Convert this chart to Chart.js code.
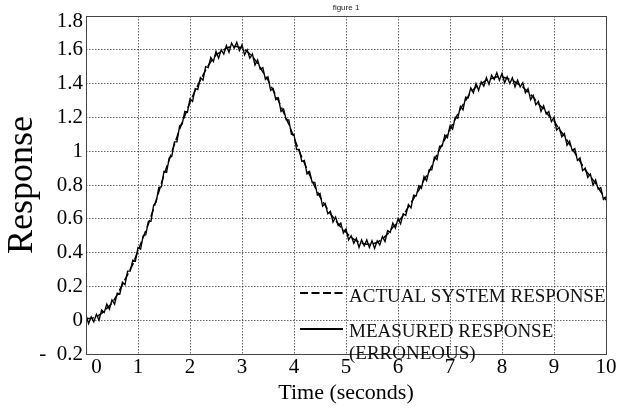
<!DOCTYPE html>
<html>
<head>
<meta charset="utf-8">
<style>
  html, body { margin: 0; padding: 0; background: #fff; }
  #wrap { width: 620px; height: 412px; }
</style>
<script src="https://cdn.jsdelivr.net/npm/chart.js@4.4.1/dist/chart.umd.min.js"></script>
</head>
<body>
<div id="wrap"><canvas id="grafico" width="620" height="412"></canvas></div>
<script>
// Values
const actualValues = [
  0.01, 0.01, 0.02, 0.04, 0.07, 0.10, 0.15, 0.21, 0.27, 0.33,
  0.41, 0.49, 0.57, 0.66, 0.76, 0.86, 0.95, 1.04, 1.13, 1.21,
  1.29, 1.36, 1.42, 1.48, 1.53, 1.57, 1.59, 1.61, 1.62, 1.62,
  1.61, 1.59, 1.56, 1.52, 1.47, 1.42, 1.36, 1.30, 1.23, 1.16,
  1.08, 1.00, 0.93, 0.86, 0.79, 0.73, 0.68, 0.63, 0.59, 0.55,
  0.52, 0.49, 0.47, 0.455, 0.45, 0.45, 0.46, 0.48, 0.51, 0.55,
  0.58, 0.62, 0.67, 0.72, 0.77, 0.83, 0.88, 0.95, 1.01, 1.07,
  1.13, 1.19, 1.25, 1.30, 1.35, 1.38, 1.40, 1.42, 1.43, 1.44,
  1.44, 1.43, 1.42, 1.40, 1.38, 1.35, 1.32, 1.28, 1.25, 1.21,
  1.18, 1.13, 1.09, 1.04, 0.99, 0.94, 0.89, 0.85, 0.81, 0.76,
  0.71
];

const measuredValues = [
  0.03, -0.02, 0.02, -0.01, 0.035, 0.00, 0.06, 0.045, 0.095, 0.065,
  0.12, 0.095, 0.16, 0.155, 0.225, 0.21, 0.29, 0.29, 0.355, 0.35,
  0.43, 0.42, 0.50, 0.505, 0.585, 0.585, 0.68, 0.70, 0.785, 0.79,
  0.88, 0.875, 0.96, 0.97, 1.055, 1.055, 1.15, 1.16, 1.235, 1.23,
  1.31, 1.295, 1.37, 1.365, 1.435, 1.42, 1.50, 1.495, 1.555, 1.53,
  1.59, 1.55, 1.60, 1.575, 1.625, 1.585, 1.64, 1.61, 1.645, 1.595,
  1.63, 1.57, 1.60, 1.55, 1.575, 1.51, 1.54, 1.485, 1.495, 1.425,
  1.44, 1.36, 1.37, 1.305, 1.315, 1.235, 1.25, 1.185, 1.185, 1.10,
  1.10, 1.01, 1.01, 0.94, 0.945, 0.865, 0.88, 0.815, 0.815, 0.74,
  0.75, 0.675, 0.69, 0.63, 0.645, 0.58, 0.61, 0.56, 0.575, 0.515,
  0.54, 0.475, 0.50, 0.455, 0.485, 0.43, 0.475, 0.44, 0.475, 0.43,
  0.47, 0.425, 0.47, 0.445, 0.495, 0.465, 0.53, 0.52, 0.575, 0.545,
  0.60, 0.57, 0.63, 0.62, 0.685, 0.665, 0.74, 0.735, 0.795, 0.78,
  0.85, 0.825, 0.89, 0.89, 0.965, 0.95, 1.03, 1.03, 1.095, 1.08,
  1.15, 1.13, 1.20, 1.195, 1.265, 1.245, 1.32, 1.315, 1.375, 1.345,
  1.40, 1.36, 1.41, 1.385, 1.435, 1.395, 1.45, 1.425, 1.465, 1.42,
  1.46, 1.405, 1.44, 1.40, 1.435, 1.38, 1.42, 1.38, 1.405, 1.345,
  1.37, 1.305, 1.33, 1.275, 1.295, 1.235, 1.27, 1.22, 1.235, 1.175,
  1.20, 1.125, 1.14, 1.085, 1.105, 1.035, 1.06, 1.005, 1.015, 0.945,
  0.96, 0.885, 0.90, 0.845, 0.865, 0.80, 0.83, 0.775, 0.785, 0.715,
  0.73
];

// sample times (seconds)
const actualTimes = actualValues.map((_, i) => i / 10);
const measuredTimes = measuredValues.map((_, i) => i / 20);

const xTickValues = [0, 1, 2, 3, 4, 5, 6, 7, 8, 9, 10];
const xTickLabels = ["0", "1", "2", "3", "4", "5", "6", "7", "8", "9", "10"];
const yTickValues = [-0.2, 0, 0.2, 0.4, 0.6, 0.8, 1, 1.2, 1.4, 1.6, 1.8];
const yTickLabels = ["-\u20020.2", "0", "0.2", "0.4", "0.6", "0.8", "1", "1.2", "1.4", "1.6", "1.8"];

const legendNames = ["ACTUAL SYSTEM RESPONSE", "MEASURED RESPONSE\n(ERRONEOUS)"];
const figureTitle = "figure 1";

const serif = '"Liberation Serif", "Times New Roman", serif';

// fundo branco, moldura, titulo e legenda
const extras = {
  id: "extras",
  beforeDraw(chart) {
    const ctx = chart.ctx;
    ctx.save();
    ctx.fillStyle = "#fff";
    ctx.fillRect(0, 0, chart.width, chart.height);
    ctx.restore();
  },
  afterDraw(chart) {
    const ctx = chart.ctx;
    const a = chart.chartArea;
    ctx.save();
    ctx.strokeStyle = "#444";
    ctx.lineWidth = 1;
    ctx.strokeRect(Math.round(a.left) + 0.5, Math.round(a.top) + 0.5,
      Math.round(a.right - a.left), Math.round(a.bottom - a.top));

    ctx.fillStyle = "#222";
    ctx.font = '8px "Liberation Sans", Arial, sans-serif';
    ctx.textAlign = "center";
    ctx.textBaseline = "middle";
    ctx.fillText(figureTitle, (a.left + a.right) / 2, 7.5);

    // legenda: tracejado = actual, continuo = measured
    const rows = [
      { ds: chart.data.datasets[1], lineY: 293, textY: 302 },
      { ds: chart.data.datasets[0], lineY: 329, textY: 337 }
    ];
    ctx.textAlign = "left";
    ctx.textBaseline = "alphabetic";
    ctx.font = "19px " + serif;
    rows.forEach((r) => {
      ctx.strokeStyle = "#000";
      ctx.lineWidth = 2;
      ctx.setLineDash(r.ds.borderDash || []);
      ctx.beginPath();
      ctx.moveTo(300, r.lineY);
      ctx.lineTo(343, r.lineY);
      ctx.stroke();
      ctx.setLineDash([]);
      ctx.fillStyle = "#111";
      r.ds.label.split("\n").forEach((line, i) => {
        ctx.fillText(line, 349, r.textY + i * 22);
      });
    });
    ctx.restore();
  }
};

const gridStyle = {
  color: "rgba(0,0,0,0.6)",
  lineWidth: 1,
  drawTicks: false
};

new Chart(document.getElementById("grafico"), {
  type: "line",
  data: {
    datasets: [
      {
        label: legendNames[1],
        data: measuredTimes.map((t, i) => ({ x: t, y: measuredValues[i] })),
        borderColor: "#000",
        borderWidth: 1.35,
        pointRadius: 0,
        tension: 0,
        fill: false
      },
      {
        label: legendNames[0],
        data: actualTimes.map((t, i) => ({ x: t, y: actualValues[i] })),
        borderColor: "#000",
        borderWidth: 1.5,
        borderDash: [8, 3.5],
        pointRadius: 0,
        tension: 0,
        fill: false
      }
    ]
  },
  options: {
    responsive: false,
    animation: false,
    devicePixelRatio: 1,
    layout: { padding: { top: 16, right: 14, bottom: 0, left: 0 } },
    plugins: {
      legend: { display: false },
      title: { display: false },
      tooltip: { enabled: false }
    },
    scales: {
      x: {
        type: "linear",
        min: 0,
        max: 10,
        afterBuildTicks: (axis) => { axis.ticks = xTickValues.map((v) => ({ value: v })); },
        afterFit: (axis) => { axis.height = 58; },
        grid: gridStyle,
        border: { display: false, dash: [1.5, 1.5] },
        ticks: {
          padding: 1,
          maxRotation: 0,
          autoSkip: false,
          color: "#000",
          font: { family: serif, size: 21 },
          // o "0" fica deslocado para a direita no original
          callback: (value, index) => (index === 0 ? "    " : "") + xTickLabels[index]
        },
        title: {
          display: true,
          text: "Time (seconds)",
          color: "#000",
          font: { family: serif, size: 22 },
          padding: { top: 0, bottom: 6 }
        }
      },
      y: {
        type: "linear",
        min: -0.2,
        max: 1.8,
        afterBuildTicks: (axis) => { axis.ticks = yTickValues.map((v) => ({ value: v })); },
        afterFit: (axis) => { axis.width = 86; },
        grid: gridStyle,
        border: { display: false, dash: [1.5, 1.5] },
        ticks: {
          padding: 3,
          autoSkip: false,
          color: "#000",
          font: (c) => ({
            family: serif,
            size: 21,
            lineHeight: c.index === yTickValues.length - 1 ? 0.55 : 1.2
          }),
          // o "1.8" fica um pouco abaixo da linha no original
          callback: (value, index) =>
            index === yTickValues.length - 1 ? ["", yTickLabels[index]] : yTickLabels[index]
        },
        title: {
          display: true,
          text: "Response",
          color: "#000",
          font: { family: serif, size: 36 },
          padding: { top: 1, bottom: 0 }
        }
      }
    }
  },
  plugins: [extras]
});
</script>
</body>
</html>
